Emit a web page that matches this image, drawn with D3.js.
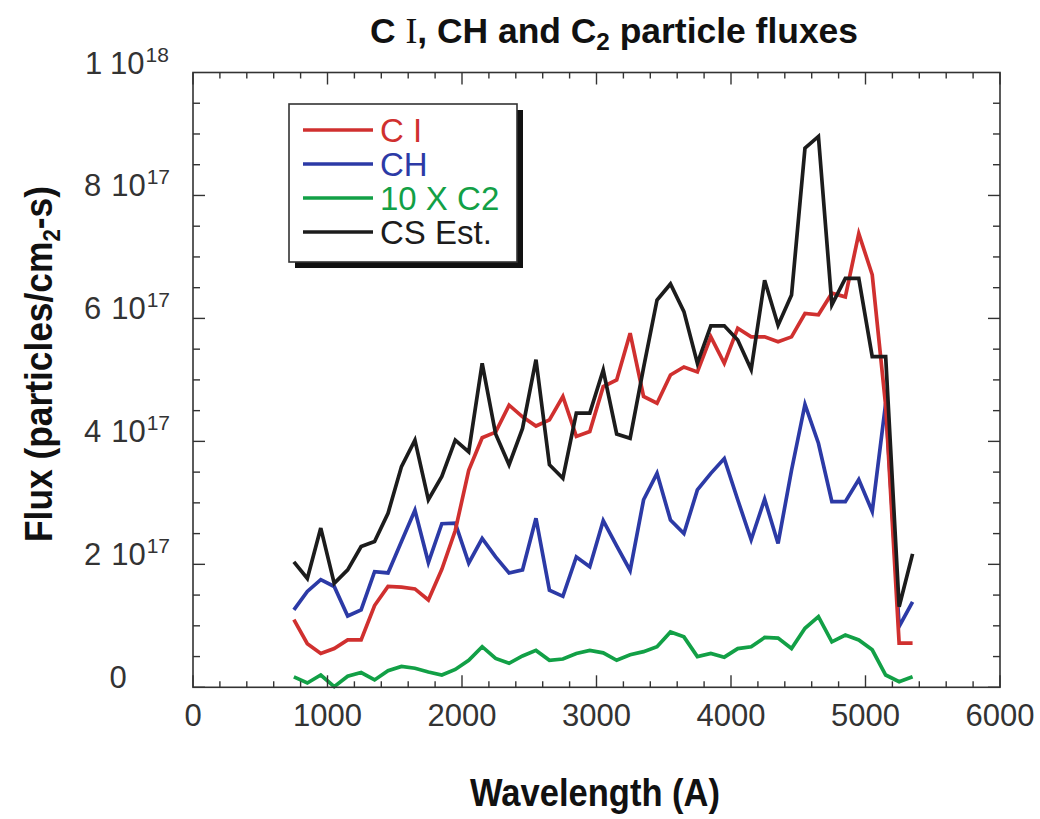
<!DOCTYPE html>
<html>
<head>
<meta charset="utf-8">
<script src="https://cdn.jsdelivr.net/npm/d3@7"></script>
<style>
  html, body { margin: 0; padding: 0; background: #fff; }
  svg { display: block; }
  text { font-family: "Liberation Sans", Arial, Helvetica, sans-serif; }
</style>
</head>
<body>
<svg id="chart" width="1040" height="819"></svg>
<script>
// Wavelength bins (Å) and particle fluxes in units of 1e17 particles/cm2-s
const wavelengths = [750, 850, 950, 1050, 1150, 1250, 1350, 1450, 1550, 1650,
  1750, 1850, 1950, 2050, 2150, 2250, 2350, 2450, 2550, 2650,
  2750, 2850, 2950, 3050, 3150, 3250, 3350, 3450, 3550, 3650,
  3750, 3850, 3950, 4050, 4150, 4250, 4350, 4450, 4550, 4650,
  4750, 4850, 4950, 5050, 5150, 5250, 5350];

const ciFlux = [1.10, 0.71, 0.55, 0.63, 0.77, 0.77, 1.33, 1.64, 1.63, 1.60,
  1.42, 1.92, 2.55, 3.53, 4.06, 4.15, 4.59, 4.40, 4.25, 4.35,
  4.73, 4.08, 4.16, 4.89, 5.00, 5.76, 4.73, 4.62, 5.08, 5.21,
  5.13, 5.70, 5.27, 5.84, 5.70, 5.70, 5.62, 5.70, 6.08, 6.06,
  6.41, 6.35, 7.38, 6.71, 4.58, 0.72, 0.72];

const chFlux = [1.26, 1.56, 1.75, 1.64, 1.16, 1.26, 1.88, 1.86, 2.37, 2.88,
  2.03, 2.66, 2.67, 2.02, 2.42, 2.12, 1.86, 1.91, 2.75, 1.58,
  1.48, 2.12, 1.96, 2.71, 2.30, 1.90, 3.05, 3.48, 2.72, 2.50,
  3.21, 3.48, 3.72, 3.05, 2.40, 3.06, 2.34, 3.53, 4.60, 3.97,
  3.02, 3.02, 3.38, 2.86, 4.62, 0.99, 1.39];

const c2FluxX10 = [0.17, 0.07, 0.20, 0.01, 0.18, 0.24, 0.12, 0.27, 0.34, 0.31,
  0.25, 0.20, 0.29, 0.44, 0.66, 0.47, 0.39, 0.51, 0.60, 0.44,
  0.46, 0.55, 0.60, 0.56, 0.44, 0.53, 0.58, 0.66, 0.90, 0.82,
  0.50, 0.55, 0.49, 0.63, 0.66, 0.81, 0.80, 0.63, 0.96, 1.15,
  0.74, 0.85, 0.77, 0.61, 0.20, 0.09, 0.17];

const csEstFlux = [2.04, 1.77, 2.59, 1.69, 1.91, 2.29, 2.37, 2.83, 3.59, 4.02,
  3.05, 3.43, 4.02, 3.83, 5.27, 4.12, 3.62, 4.21, 5.33, 3.62,
  3.40, 4.46, 4.46, 5.16, 4.12, 4.05, 5.20, 6.30, 6.56, 6.11,
  5.27, 5.88, 5.88, 5.65, 5.17, 6.62, 5.89, 6.38, 8.77, 8.96,
  6.22, 6.65, 6.65, 5.38, 5.38, 1.31, 2.17];

const seriesNames = ["C I", "CH", "10 X C2", "CS Est."];
const seriesValues = [ciFlux, chFlux, c2FluxX10, csEstFlux];
const seriesColors = ["#d0302f", "#2c3aa6", "#12a046", "#1c1c1c"];

const xTicks = [0, 1000, 2000, 3000, 4000, 5000, 6000];
const yTickMantissa = ["0", "2", "4", "6", "8", "1"];
const yTickExponent = ["", "17", "17", "17", "17", "18"];
const yTicks = [0, 2e17, 4e17, 6e17, 8e17, 1e18];

const svg = d3.select("#chart");
const ink = "#333";

const x = d3.scaleLinear().domain([0, 6000]).range([193, 1000]);
const y = d3.scaleLinear().domain([0, 1e18]).range([687.3, 72.5]);

// ---- Series lines (drawn under the frame) ----
const line = d3.line()
  .x((d, i) => x(wavelengths[i]))
  .y(d => y(d * 1e17));

const plot = svg.append("g");
// draw order: green, blue, red, black on top
[2, 1, 0, 3].forEach(k => {
  plot.append("path")
    .datum(seriesValues[k])
    .attr("d", line)
    .attr("fill", "none")
    .attr("stroke", seriesColors[k])
    .attr("stroke-width", 3.7)
    .attr("stroke-linejoin", "miter")
    .attr("stroke-linecap", "butt");
});

// ---- Frame and ticks ----
const [x0, x1] = x.range();
const [yb, yt] = y.range();
svg.append("rect")
  .attr("x", x0).attr("y", yt)
  .attr("width", x1 - x0).attr("height", yb - yt)
  .attr("fill", "none").attr("stroke", ink).attr("stroke-width", 1.6);

const xMinor = d3.range(0, 6001, 200);
const tickG = svg.append("g").attr("stroke", ink).attr("stroke-width", 1.4);
xMinor.forEach(v => {
  const len = v % 1000 === 0 ? 12 : 6;
  tickG.append("line").attr("x1", x(v)).attr("x2", x(v)).attr("y1", yb).attr("y2", yb - len);
  tickG.append("line").attr("x1", x(v)).attr("x2", x(v)).attr("y1", yt).attr("y2", yt + len);
});
const yMinor = d3.range(0, 1e18 + 1, 5e16);
yMinor.forEach(v => {
  const len = Math.round(v / 1e16) % 20 === 0 ? 12 : 7;
  tickG.append("line").attr("x1", x0).attr("x2", x0 + len).attr("y1", y(v)).attr("y2", y(v));
  tickG.append("line").attr("x1", x1).attr("x2", x1 - len).attr("y1", y(v)).attr("y2", y(v));
});

// ---- X tick labels ----
svg.append("g").selectAll("text")
  .data(xTicks).join("text")
  .attr("x", d => x(d))
  .attr("y", 726)
  .attr("text-anchor", "middle")
  .attr("font-size", 31)
  .attr("fill", ink)
  .text(d => d);

// ---- Y tick labels (mantissa + power of ten) ----
const yLab = svg.append("g");
yTicks.forEach((v, i) => {
  const t = yLab.append("text")
    .attr("x", 127)
    .attr("y", y(v) + 1)
    .attr("text-anchor", "middle")
    .attr("font-size", 31)
    .attr("fill", ink);
  if (yTickExponent[i] === "") {
    t.attr("x", 118).text(yTickMantissa[i]);
  } else {
    t.append("tspan").text(yTickMantissa[i]);
    t.append("tspan").attr("dx", 10).text("10");
    t.append("tspan").attr("font-size", 21).attr("dx", 1).attr("dy", -12).text(yTickExponent[i]);
  }
});

// ---- Title ----
const title = svg.append("text")
  .attr("x", 614).attr("y", 43)
  .attr("text-anchor", "middle")
  .attr("font-size", 35).attr("font-weight", "bold")
  .attr("fill", "#111")
  .attr("textLength", 488).attr("lengthAdjust", "spacingAndGlyphs");
title.append("tspan").text("C ");
title.append("tspan").attr("font-family", "'Liberation Serif', 'Times New Roman', serif")
  .attr("font-weight", "normal").text("I");
title.append("tspan").text(", CH and C");
title.append("tspan").attr("font-size", 24).attr("dy", 7).text("2");
title.append("tspan").attr("dy", -7).text(" particle fluxes");

// ---- Axis titles ----
svg.append("text")
  .attr("x", 595).attr("y", 806)
  .attr("text-anchor", "middle")
  .attr("font-size", 38).attr("font-weight", "bold")
  .attr("fill", "#111")
  .attr("textLength", 250).attr("lengthAdjust", "spacingAndGlyphs")
  .text("Wavelength (A)");

const yTitle = svg.append("text")
  .attr("transform", "translate(52,364) rotate(-90)")
  .attr("text-anchor", "middle")
  .attr("font-size", 38).attr("font-weight", "bold")
  .attr("fill", "#111")
  .attr("textLength", 356).attr("lengthAdjust", "spacingAndGlyphs");
yTitle.append("tspan").text("Flux (particles/cm");
yTitle.append("tspan").attr("font-size", 24).attr("dy", 8).text("2");
yTitle.append("tspan").attr("dy", -8).text("-s)");

// ---- Legend ----
const lg = svg.append("g").attr("transform", "translate(289,104)");
const lgW = 228, lgH = 158;
lg.append("rect").attr("x", 6).attr("y", 6).attr("width", lgW).attr("height", lgH).attr("fill", "#111");
lg.append("rect").attr("x", 0).attr("y", 0).attr("width", lgW).attr("height", lgH)
  .attr("fill", "#fff").attr("stroke", ink).attr("stroke-width", 1.6);
seriesNames.forEach((name, i) => {
  const cy = 26 + i * 34;
  lg.append("line").attr("x1", 14).attr("x2", 84).attr("y1", cy).attr("y2", cy)
    .attr("stroke", seriesColors[i]).attr("stroke-width", 3.3);
  lg.append("text").attr("x", 91).attr("y", cy + 12)
    .attr("font-size", 33).attr("fill", seriesColors[i]).text(name);
});
</script>
</body>
</html>
